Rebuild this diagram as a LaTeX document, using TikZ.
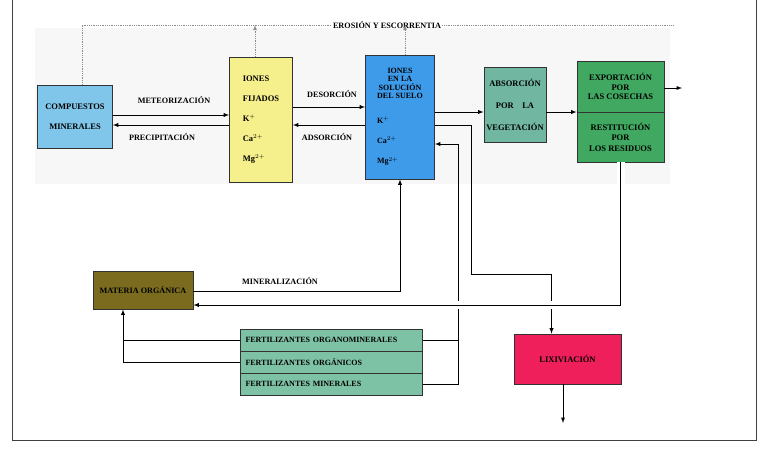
\documentclass[tikz,border=0pt]{standalone}
\usepackage{fontspec}
\setmainfont{Liberation Serif}
\usetikzlibrary{positioning}

\definecolor{cmblue}{RGB}{128,198,234}
\definecolor{ionyellow}{RGB}{246,240,140}
\definecolor{solblue}{RGB}{61,155,234}
\definecolor{absgreen}{RGB}{112,182,160}
\definecolor{expgreen}{RGB}{64,168,96}
\definecolor{moolive}{RGB}{122,107,31}
\definecolor{fertgreen}{RGB}{126,194,166}
\definecolor{lixred}{RGB}{238,31,90}

\begin{document}
\begin{tikzpicture}
    [
    x=1pt,y=-1pt,
    box/.style={draw=black!80,line width=0.8pt,inner sep=1pt,align=center,
      font=\fontsize{8.5}{9.5}\selectfont\bfseries},
    lbl/.style={inner sep=1pt,font=\fontsize{8.2}{9}\selectfont\bfseries},
    fert/.style={box,minimum width=182,minimum height=22,text width=172,
      align=left,fill=fertgreen,font=\fontsize{8}{9}\selectfont\bfseries},
    arr/.style={-latex,line width=0.9pt},
    ln/.style={line width=0.9pt},
    dot/.style={densely dotted,black!45,line width=0.8pt},
    gap/.style={preaction={draw=white,line width=8pt}}
    ]
    \useasboundingbox (0,0) rectangle (761,450);
    \fill [black!3] (35,28) rectangle (670,184);
    % frame
    \draw [line width=1pt,black!75] (12,0) -- (12,440) -- (756,440) -- (756,0);
    % boxes
    \node (cm) at (75,116.5) [box,fill=cmblue,minimum width=75,minimum height=63] {COMPUESTOS\\[10.5pt]MINERALES};
    \node (ion) at (261,119.5) [box,fill=ionyellow,minimum width=63,minimum height=125,align=left] {IONES\\[10.5pt]FIJADOS\\[10.5pt]K$^+$\\[10.5pt]Ca$^{2+}$\\[10.5pt]Mg$^{2+}$};
    \node (sol) at (400,117) [box,fill=solblue,minimum width=69,minimum height=124,font=\fontsize{8}{8.4}\selectfont\bfseries] {IONES\\EN LA\\SOLUCIÓN\\DEL SUELO\\[16pt]\makebox[46pt][l]{K$^+$}\\[12pt]\makebox[46pt][l]{Ca$^{2+}$}\\[12pt]\makebox[46pt][l]{Mg$^{2+}$}};
    \node (abs) at (515,104.5) [box,fill=absgreen,minimum width=62,minimum height=75] {ABSORCIÓN\\[12.5pt]POR\quad LA\\[12.5pt]VEGETACIÓN};
    \node (expo) at (620.5,86.5) [box,fill=expgreen,minimum width=87,minimum height=51] {EXPORTACIÓN\\POR\\LAS COSECHAS};
    \node (rest) at (620.5,137) [box,fill=expgreen,minimum width=87,minimum height=50] {RESTITUCIÓN\\[1pt]POR\\[1pt]LOS RESIDUOS};
    \node (mo) at (143,290) [box,fill=moolive,minimum width=100,minimum height=38,font=\fontsize{8.2}{9}\selectfont\bfseries] {MATERIA ORGÁNICA};
    \node (f1) at (331.5,340) [fert] {FERTILIZANTES ORGANOMINERALES};
    \node (f2) at (331.5,362) [fert] {FERTILIZANTES ORGÁNICOS};
    \node (f3) at (331.5,384) [fert] {FERTILIZANTES MINERALES};
    \node (lix) at (567.5,359) [box,fill=lixred,minimum width=107,minimum height=50] {LIXIVIACIÓN};
    % labels
    \node (lmet) at (174,100) [lbl] {METEORIZACIÓN};
    \node (lpre) at (162,137) [lbl] {PRECIPITACIÓN};
    \node (ldes) at (332,94) [lbl] {DESORCIÓN};
    \node (lads) at (327,137) [lbl] {ADSORCIÓN};
    \node (lmin) at (280,281) [lbl] {MINERALIZACIÓN};
    \node (ero) at (387,25) [lbl] {EROSIÓN Y ESCORRENTIA};
    \coordinate (e1) at (673,25);
    \coordinate (e2) at (255,25);
    \coordinate (e3) at (405,25);
    \coordinate (out1) at (682,88);
    \coordinate (out2) at (563,423);
    % erosion
    \draw [dot] (cm.north -| 82,0) |- (ero.west);
    \draw [dot] (ero.east) -- (e1);
    \draw [dot,-latex] (ion.north -| e2) -- (e2);
    \draw [dot,-latex] (sol.north -| e3) -- (e3);
    % exchanges
    \draw [arr] (cm.east |- 0,115) -- (ion.west |- 0,115);
    \draw [arr] (ion.west |- 0,125) -- (cm.east |- 0,125);
    \draw [arr] (ion.east |- 0,107) -- (sol.west |- 0,107);
    \draw [arr] (sol.west |- 0,125) -- (ion.east |- 0,125);
    \draw [arr] (sol.east |- 0,112) -- (abs.west |- 0,112);
    \draw [arr] (abs.east |- 0,112) -- (expo.west |- 0,112);
    \draw [arr] (expo.east |- 0,88) -- (out1);
    \draw [arr] (mo.east |- 0,291) -| (sol.south);
    \draw [arr] (sol.east |- 0,125) -| (471,274) -| ([xshift=-16pt]lix.north);
    \draw [arr] (lix.south -| out2) -- (out2);
    % fertilizers
    \draw [ln] (f1.east) -- (f1.east -| 458,0);
    \draw [arr] (f3.east) -| (458,144) -- (sol.east |- 0,144);
    \draw [ln] (f1.west) -- (f1.west -| 123,0);
    \draw [arr] (f2.west) -| (mo.south -| 123,0);
    % restitution
    \draw [arr,gap] (rest.south) |- (mo.east |- 0,305);
  \end{tikzpicture}
\end{document}
